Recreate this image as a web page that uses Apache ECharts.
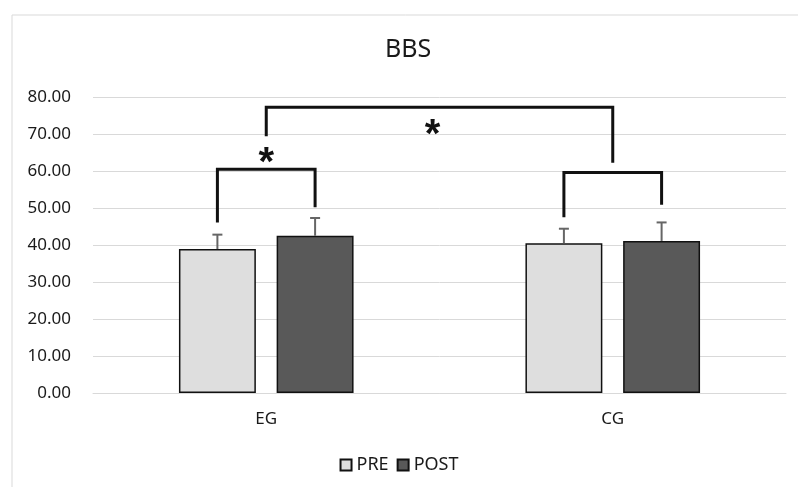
<!DOCTYPE html>
<html>
<head>
<meta charset="utf-8">
<script src="https://cdn.jsdelivr.net/npm/echarts@6/dist/echarts.min.js"></script>
<style>html,body{margin:0;padding:0;background:#fff}#c{width:798px;height:487px}</style>
</head>
<body>
<div id="c"></div>
<script>
// ---- data ----
const categories = ['EG', 'CG'];
const seriesNames = ['PRE', 'POST'];
const preMean = [38.9, 40.5];
const postMean = [42.5, 41.1];
const preSD = [3.9, 3.9];
const postSD = [4.8, 5.0];
const yMin = 0, yMax = 80, yStep = 10;

// significance brackets (values in y-axis units)
const bracketStartCat = ['EG', 'EG', 'CG'];
const bracketStartBar = ['PRE', null, 'PRE'];
const bracketEndCat = ['EG', 'CG', 'CG'];
const bracketEndBar = ['POST', null, 'POST'];
const bracketLeftEnd = [46.1, 69.4, 47.5];
const bracketTop = [60.5, 77.2, 59.6];
const bracketRightEnd = [50.2, 62.2, 50.9];
const bracketMark = ['*', '*', ''];
const bracketMarkAt = [64.4, 72.0, null];

// ---- style ----
const BAR_W = 0.222, BAR_GAP = 0.27;
const FONT = '"Noto Sans", "Liberation Sans", sans-serif';

function barX(api, catName, barName) {
  const ci = categories.indexOf(catName);
  const cx = api.coord([ci, 0])[0];
  if (barName == null) return cx;
  const band = api.size([1, 0])[0];
  const bw = band * BAR_W;
  const si = seriesNames.indexOf(barName);
  return cx + (si - (seriesNames.length - 1) / 2) * bw * (1 + BAR_GAP);
}

function errorSeries(name, means, sds) {
  return {
    type: 'custom',
    name: name + ' SD',
    z: 3,
    silent: true,
    data: means.map((m, i) => [i, m, sds[i]]),
    renderItem: function (params, api) {
      const ci = api.value(0);
      const x = barX(api, categories[ci], name);
      const y0 = api.coord([ci, api.value(1)])[1];
      const y1 = api.coord([ci, api.value(1) + api.value(2)])[1];
      const st = { stroke: '#666666', lineWidth: 2 };
      return {
        type: 'group',
        children: [
          { type: 'line', shape: { x1: x, y1: y0, x2: x, y2: y1 }, style: st },
          { type: 'line', shape: { x1: x - 5, y1: y1, x2: x + 5, y2: y1 }, style: st }
        ]
      };
    }
  };
}

const chart = echarts.init(document.getElementById('c'));
chart.setOption({
  animation: false,
  backgroundColor: '#fff',
  title: {
    text: 'BBS', left: 385, top: 37, padding: 0,
    textStyle: { fontFamily: FONT, fontSize: 25, fontWeight: 'normal', color: '#1a1a1a' }
  },
  legend: {
    data: seriesNames, top: 451, left: 'center', itemWidth: 11, itemHeight: 11, itemGap: 8,
    icon: 'rect',
    textStyle: { fontFamily: FONT, fontSize: 18, color: '#1a1a1a' }
  },
  grid: { left: 93, right: 12, top: 97, bottom: 94 },
  xAxis: {
    type: 'category', data: categories,
    axisLine: { lineStyle: { color: '#d9d9d9' } },
    axisTick: { show: false },
    axisLabel: { fontFamily: FONT, fontSize: 17, color: '#1a1a1a', margin: 18 }
  },
  yAxis: {
    type: 'value', min: yMin, max: yMax, interval: yStep,
    axisLine: { show: false }, axisTick: { show: false },
    splitLine: { lineStyle: { color: '#d9d9d9' } },
    axisLabel: { fontFamily: FONT, fontSize: 17, color: '#1a1a1a', margin: 22,
      formatter: v => v.toFixed(2) }
  },
  graphic: [{
    type: 'rect', silent: true, z: -1,
    shape: { x: 12, y: 15, width: 820, height: 500 },
    style: { fill: 'none', stroke: '#d9d9d9', lineWidth: 1 }
  }],
  series: [
    { type: 'bar', name: 'PRE', data: preMean, barWidth: (BAR_W * 100) + '%', barGap: (BAR_GAP * 100) + '%',
      itemStyle: { color: '#dedede', borderColor: '#111', borderWidth: 1.5 } },
    { type: 'bar', name: 'POST', data: postMean, barWidth: (BAR_W * 100) + '%', barGap: (BAR_GAP * 100) + '%',
      itemStyle: { color: '#595959', borderColor: '#111', borderWidth: 1.5 } },
    errorSeries('PRE', preMean, preSD),
    errorSeries('POST', postMean, postSD),
    {
      type: 'custom', name: 'brackets', z: 4, silent: true,
      data: bracketTop.map((t, i) => [i, t]),
      renderItem: function (params, api) {
        const i = params.dataIndex;
        const xl = barX(api, bracketStartCat[i], bracketStartBar[i]);
        const xr = barX(api, bracketEndCat[i], bracketEndBar[i]);
        const yOf = v => api.coord([0, v])[1];
        const children = [{
          type: 'polyline',
          shape: { points: [[xl, yOf(bracketLeftEnd[i])], [xl, yOf(bracketTop[i])], [xr, yOf(bracketTop[i])], [xr, yOf(bracketRightEnd[i])]] },
          style: { stroke: '#111', lineWidth: 3, fill: 'none' }
        }];
        if (bracketMark[i]) {
          children.push({
            type: 'text',
            style: { text: bracketMark[i], x: (xl + xr) / 2 - (i === 1 ? 7 : 0), y: yOf(bracketMarkAt[i]) + 9,
              align: 'center', verticalAlign: 'middle',
              font: 'bold 40px "Liberation Sans", sans-serif', fill: '#111' }
          });
        }
        return { type: 'group', children: children };
      }
    }
  ]
});
</script>
</body>
</html>
